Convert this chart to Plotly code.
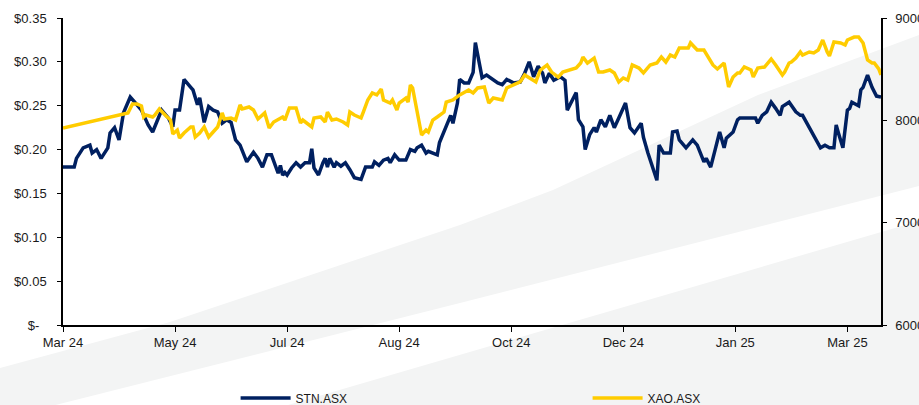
import plotly.graph_objects as go
import pandas as pd

start = pd.Timestamp("2024-03-28")

# STN.ASX share price (days since start, A$)
stn_days = [0, 3, 5, 6, 9, 12, 13, 15, 17, 20, 21, 23, 25, 27, 30, 32, 35, 38, 40, 44,
            47, 49, 50, 52, 54, 57, 58, 60, 61, 63, 65, 67, 69, 71, 73, 75, 77, 79, 82, 85,
            87, 89, 91, 93, 96, 97, 98, 99, 100, 102, 104, 106, 108, 110, 111, 112, 114, 116, 117, 118,
            119, 121, 122, 124, 126, 128, 130, 133, 135, 138, 139, 141, 143, 145, 146, 148, 150, 153, 155, 157,
            158, 160, 162, 163, 165, 167, 168, 171, 173, 174, 176, 177, 179, 181, 183, 184, 187, 189, 192, 194,
            196, 198, 201, 204, 206, 208, 210, 212, 214, 215, 217, 219, 222, 224, 225, 228, 229, 230, 232, 233,
            235, 237, 238, 240, 242, 244, 246, 248, 251, 253, 255, 258, 259, 261, 263, 265, 266, 268, 271, 272,
            274, 275, 278, 281, 283, 286, 287, 289, 291, 293, 295, 296, 299, 301, 302, 305, 309, 310, 312, 314,
            316, 318, 320, 321, 324, 327, 329, 330, 332, 334, 336, 338, 340, 342, 344, 345, 346, 348, 350, 351,
            352, 355, 356, 357, 359, 361, 363, 365]
stn_price = [0.180, 0.180, 0.180, 0.190, 0.202, 0.205, 0.196, 0.200, 0.190, 0.202, 0.219, 0.225, 0.211, 0.242, 0.260, 0.254, 0.245, 0.228, 0.220, 0.245,
             0.236, 0.226, 0.245, 0.245, 0.280, 0.271, 0.268, 0.251, 0.259, 0.231, 0.249, 0.245, 0.243, 0.230, 0.234, 0.231, 0.211, 0.205, 0.186, 0.197,
             0.190, 0.180, 0.194, 0.194, 0.173, 0.182, 0.171, 0.174, 0.171, 0.179, 0.185, 0.180, 0.185, 0.185, 0.201, 0.179, 0.171, 0.185, 0.190, 0.180,
             0.190, 0.180, 0.185, 0.181, 0.185, 0.177, 0.168, 0.166, 0.180, 0.180, 0.186, 0.182, 0.188, 0.190, 0.185, 0.194, 0.188, 0.188, 0.200, 0.198,
             0.202, 0.205, 0.196, 0.198, 0.196, 0.194, 0.208, 0.226, 0.239, 0.230, 0.253, 0.280, 0.276, 0.276, 0.288, 0.322, 0.282, 0.285, 0.279, 0.276,
             0.274, 0.280, 0.276, 0.277, 0.287, 0.300, 0.283, 0.295, 0.287, 0.276, 0.287, 0.279, 0.283, 0.279, 0.245, 0.259, 0.265, 0.234, 0.226, 0.200,
             0.217, 0.225, 0.220, 0.234, 0.226, 0.239, 0.225, 0.236, 0.253, 0.225, 0.219, 0.230, 0.214, 0.196, 0.180, 0.165, 0.205, 0.196, 0.196, 0.220,
             0.221, 0.211, 0.202, 0.211, 0.205, 0.186, 0.190, 0.180, 0.200, 0.220, 0.202, 0.213, 0.220, 0.234, 0.236, 0.236, 0.236, 0.230, 0.239, 0.243,
             0.254, 0.247, 0.239, 0.249, 0.254, 0.243, 0.239, 0.239, 0.230, 0.220, 0.211, 0.202, 0.205, 0.202, 0.202, 0.228, 0.219, 0.202, 0.245, 0.247,
             0.254, 0.250, 0.268, 0.271, 0.285, 0.271, 0.261, 0.260]

# XAO.ASX All Ordinaries index (days since start, points)
xao_days = [0, 29, 31, 33, 35, 36, 37, 40, 41, 43, 46, 48, 49, 51, 52, 54, 57, 58, 59, 61,
            63, 65, 67, 69, 71, 72, 75, 77, 79, 80, 83, 85, 87, 89, 90, 92, 94, 98, 99, 101,
            104, 106, 107, 111, 112, 115, 117, 118, 120, 122, 125, 127, 128, 130, 133, 134, 136, 138, 140, 142,
            143, 146, 147, 149, 150, 153, 154, 155, 156, 160, 162, 163, 165, 167, 170, 171, 174, 177, 181, 183,
            185, 188, 190, 192, 195, 196, 198, 201, 204, 206, 208, 211, 213, 216, 218, 221, 223, 226, 229, 231,
            232, 234, 236, 237, 239, 241, 244, 246, 248, 250, 252, 254, 257, 259, 262, 265, 267, 269, 271, 273,
            275, 279, 280, 281, 283, 286, 288, 290, 292, 295, 297, 299, 301, 302, 304, 307, 308, 310, 313, 316,
            318, 321, 322, 324, 325, 327, 329, 330, 333, 335, 337, 339, 341, 342, 344, 347, 349, 350, 353, 355,
            357, 359, 361, 362, 364, 365]
xao_index = [7925, 8072, 8160, 8160, 8140, 8033, 8052, 8033, 8052, 8111, 8042, 8003, 7866, 7905, 7827, 7876, 7935, 7935, 7837, 7876,
             7935, 7837, 7886, 7935, 8072, 8013, 8023, 8003, 8150, 8111, 8130, 8101, 8013, 8052, 8072, 7925, 7984, 8033, 8003, 8121,
             8121, 7974, 8003, 7935, 8023, 8033, 7984, 8081, 8003, 8013, 7984, 7954, 8081, 8052, 8023, 8081, 8199, 8267, 8248, 8306,
             8199, 8169, 8199, 8101, 8169, 8218, 8179, 8345, 8316, 7857, 7905, 7886, 8003, 8033, 8081, 8179, 8199, 8248, 8296, 8267,
             8316, 8326, 8169, 8218, 8199, 8199, 8316, 8345, 8375, 8443, 8414, 8375, 8492, 8541, 8472, 8423, 8472, 8492, 8511, 8560,
             8619, 8560, 8590, 8609, 8472, 8472, 8492, 8463, 8375, 8414, 8394, 8541, 8511, 8463, 8541, 8560, 8619, 8570, 8638, 8619,
             8707, 8707, 8756, 8736, 8687, 8687, 8609, 8541, 8502, 8560, 8326, 8423, 8463, 8463, 8521, 8492, 8423, 8511, 8521, 8599,
             8541, 8443, 8472, 8560, 8570, 8609, 8668, 8638, 8668, 8658, 8687, 8785, 8668, 8629, 8765, 8756, 8736, 8785, 8814, 8814,
             8756, 8590, 8560, 8560, 8502, 8443]

left_ticks = [0, 0.05, 0.10, 0.15, 0.20, 0.25, 0.30, 0.35]
left_labels = ["$-\u00a0\u00a0", "$0.05", "$0.10", "$0.15", "$0.20", "$0.25", "$0.30", "$0.35"]
right_ticks = [6000, 7000, 8000, 9000]

stn_dates = start + pd.to_timedelta(stn_days, unit="D")
xao_dates = start + pd.to_timedelta(xao_days, unit="D")

W, H = 919, 405
L, R, T, B = 63, 38, 18, 80
pw, ph = W - L - R, H - T - B


def to_paper(pts):
    # pixel (x, y) -> paper coords for the decorative background bands
    return " ".join(
        ("M" if i == 0 else "L") + f"{(x - L) / pw:.4f},{(H - B - y) / ph:.4f}"
        for i, (x, y) in enumerate(pts)
    ) + " Z"


band_a = [(0, 368), (170, 322), (460, 225), (553, 190), (758, 95), (919, 35),
          (919, 186), (460, 303), (0, 419)]
band_b = [(288, 405), (919, 221), (919, 405)]

fig = go.Figure()

fig.add_trace(go.Scatter(x=stn_dates, y=stn_price, mode="lines", name="STN.ASX",
                         line=dict(color="#002060", width=3.5)))
fig.add_trace(go.Scatter(x=xao_dates, y=xao_index, mode="lines", name="XAO.ASX",
                         yaxis="y2", line=dict(color="#ffcc00", width=3.5)))

for band in (band_a, band_b):
    fig.add_shape(type="path", path=to_paper(band), xref="paper", yref="paper",
                  fillcolor="#f3f4f4", line=dict(width=0), layer="below")

axis_font = dict(family="Liberation Sans, Arial, sans-serif", size=13, color="#1a1a1a")

fig.update_layout(
    template="none",
    width=W, height=H,
    margin=dict(l=L, r=R, t=T, b=B, autoexpand=False),
    paper_bgcolor="white",
    plot_bgcolor="rgba(0,0,0,0)",
    font=axis_font,
    showlegend=True,
    legend=dict(orientation="h", x=0.211, y=-0.238, xanchor="left", yanchor="middle",
                font=dict(family="Liberation Sans, Arial, sans-serif", size=12, color="#1a1a1a"),
                itemwidth=50, entrywidth=287, entrywidthmode="pixels",
                bgcolor="rgba(0,0,0,0)"),
    xaxis=dict(type="date", range=["2024-03-28", "2025-03-28"], tick0="2024-03-28",
               dtick=50 * 86400000, tickformat="%b %y", showgrid=False, zeroline=False,
               showline=True, linecolor="black", linewidth=1.5, ticks="outside",
               ticklen=5, tickcolor="black", automargin=False),
    yaxis=dict(range=[0, 0.35], tickvals=left_ticks, ticktext=left_labels, showgrid=False,
               zeroline=False, showline=True, linecolor="black", linewidth=1.5,
               ticks="outside", ticklen=4, tickcolor="black", automargin=False,
               ticklabelstandoff=8),
    yaxis2=dict(range=[6000, 9000], tickvals=right_ticks, tickformat="d", overlaying="y",
                side="right", showgrid=False, zeroline=False, showline=True,
                linecolor="black", linewidth=1.5, ticks="outside", ticklen=4,
                tickcolor="black", automargin=False, ticklabelstandoff=6),
)

fig.write_html("out.html", config={"displayModeBar": False},
               post_script="document.body.style.margin='0px';")
